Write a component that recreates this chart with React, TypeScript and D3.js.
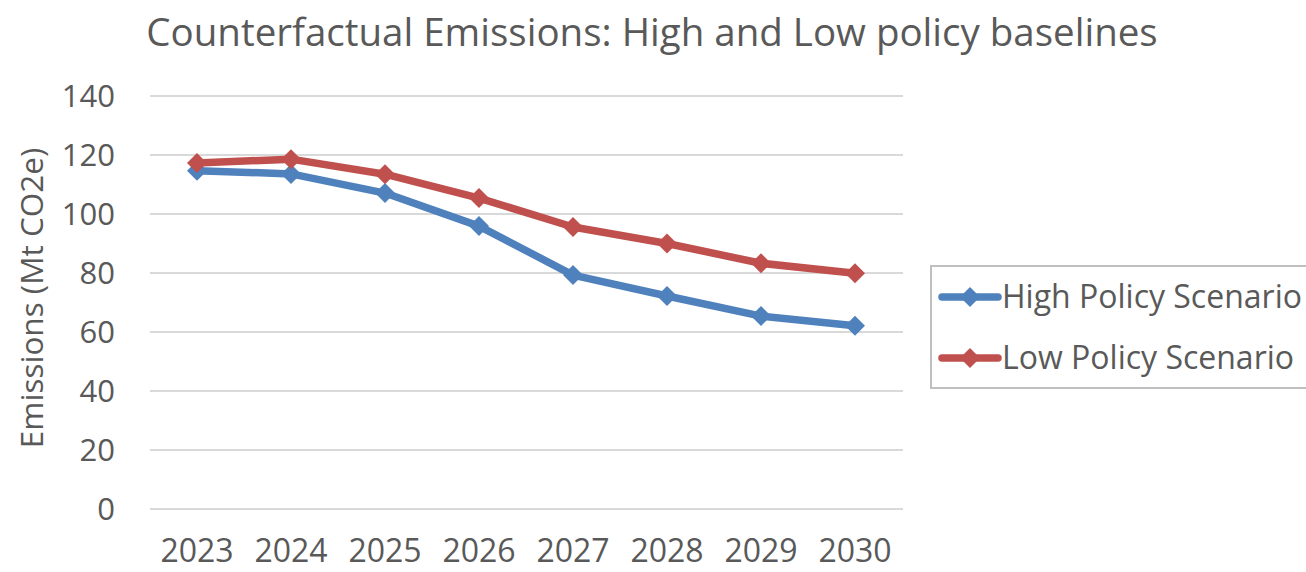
import React from "react";
import * as d3 from "d3";

const years = ["2023", "2024", "2025", "2026", "2027", "2028", "2029", "2030"];
const highPolicy = [114.7, 113.6, 107.1, 95.9, 79.3, 72.2, 65.4, 62.1];
const lowPolicy = [117.3, 118.6, 113.5, 105.4, 95.6, 90.0, 83.3, 79.9];
const yTicks = [0, 20, 40, 60, 80, 100, 120, 140];

const series = [
  { name: "High Policy Scenario", values: highPolicy, color: "#4F81BD" },
  { name: "Low Policy Scenario", values: lowPolicy, color: "#C0504D" },
];

const W = 1306;
const H = 572;
const font = "'Open Sans', sans-serif";
const textColor = "#595959";

const App: React.FC = () => {
  const x = d3.scaleBand().domain(years).range([150, 902]);
  const y = d3.scaleLinear().domain([0, 140]).range([509, 96]);

  const line = d3
    .line<number>()
    .x((_, i) => x(years[i])! + x.bandwidth() / 2)
    .y(d => y(d));

  // diamond marker, like the spreadsheet's default
  const diamond = (cx: number, cy: number, r: number) =>
    `M${cx},${cy - r}L${cx + r},${cy}L${cx},${cy + r}L${cx - r},${cy}Z`;

  return (
    <svg width={W} height={H} style={{ position: "absolute", left: 0, top: 0 }} fontFamily={font}>
      <rect width={W} height={H} fill="white" />
      <text x={652} y={46} textAnchor="middle" fontSize={38.5} fill={textColor}>
        Counterfactual Emissions: High and Low policy baselines
      </text>

      {/* gridlines */}
      {yTicks.map(t => (
        <line key={t} x1={150} x2={903} y1={y(t)} y2={y(t)} stroke="#D9D9D9" strokeWidth={2} />
      ))}

      {/* y tick labels */}
      {yTicks.map(t => (
        <text key={t} x={115} y={y(t)} dy="0.35em" textAnchor="end" fontSize={31} fill={textColor}>
          {t}
        </text>
      ))}

      {/* x tick labels */}
      {years.map(yr => (
        <text key={yr} x={x(yr)! + x.bandwidth() / 2} y={562} textAnchor="middle" fontSize={32} fill={textColor}>
          {yr}
        </text>
      ))}

      <text
        transform={`translate(43,298) rotate(-90)`}
        textAnchor="middle"
        fontSize={31.5}
        fill={textColor}
      >
        Emissions (Mt CO2e)
      </text>

      {series.map(s => (
        <g key={s.name}>
          <path d={line(s.values) ?? ""} fill="none" stroke={s.color} strokeWidth={7.5} strokeLinejoin="round" />
          {s.values.map((v, i) => (
            <path key={i} d={diamond(x(years[i])! + x.bandwidth() / 2, y(v), 10)} fill={s.color} />
          ))}
        </g>
      ))}

      {/* legend */}
      <rect x={931} y={266} width={380} height={122} fill="white" stroke="#BFBFBF" strokeWidth={2} />
      {series.map((s, i) => {
        const ly = 297 + i * 61;
        return (
          <g key={s.name}>
            <line x1={942} x2={998} y1={ly} y2={ly} stroke={s.color} strokeWidth={7.5} strokeLinecap="round" />
            <path d={diamond(970, ly, 10)} fill={s.color} />
            <text x={1002} y={ly} dy="0.35em" fontSize={32} fill={textColor}>
              {s.name}
            </text>
          </g>
        );
      })}
    </svg>
  );
};

export default App;
